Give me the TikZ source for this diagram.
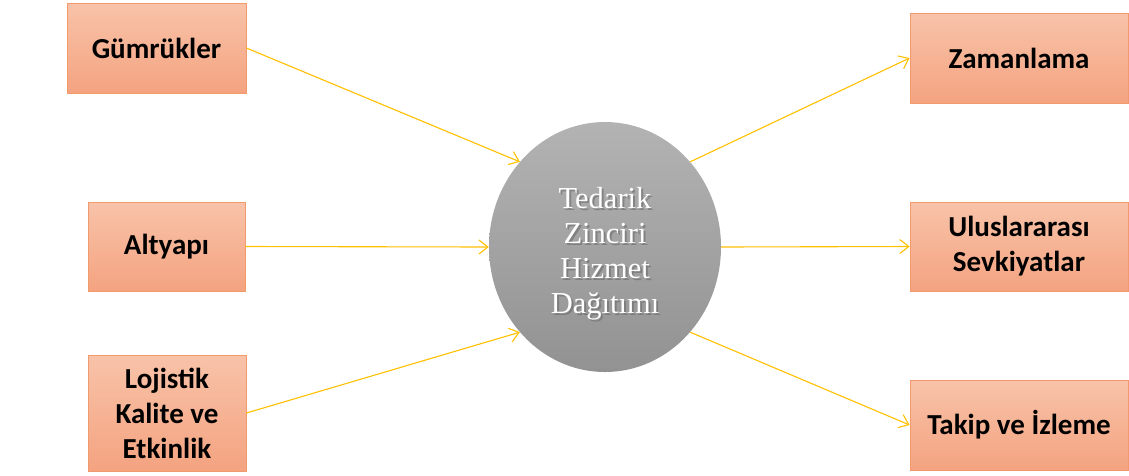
\documentclass[tikz,border=0pt]{standalone}
\usepackage{fontspec}
\setmainfont{Carlito}
\newfontfamily\serifface{Liberation Serif}
\usetikzlibrary{arrows.meta,shadings,shapes.geometric}
\definecolor{boxtop}{HTML}{F8C3A9}
\definecolor{boxbot}{HTML}{F4A380}
\definecolor{boxline}{HTML}{F29A6C}
\definecolor{arrowc}{HTML}{FFC000}
\definecolor{elltop}{HTML}{B3B3B3}
\definecolor{ellbot}{HTML}{929292}
\tikzset{
  x=1pt, y=-1pt,
  factor/.style={draw=boxline, line width=0.8pt, top color=boxtop, bottom color=boxbot,
    font=\fontsize{29}{35}\selectfont\bfseries, align=center, inner sep=0pt},
  link/.style={draw=arrowc, line width=1.1pt, -{Straight Barb[length=9pt,width=14pt,line width=1.1pt]}},
  hub/.style={ellipse, top color=elltop, bottom color=ellbot, draw=none,
    minimum width=232pt, minimum height=250pt, inner sep=0pt},
  hubtext/.style={font=\serifface\fontsize{30.5}{35}\selectfont, align=center},
}
\begin{document}
\begin{tikzpicture}
\useasboundingbox (0,0) rectangle (1129,475);
% left boxes
\node[factor, minimum width=179pt, minimum height=90pt] (g) at (156.5,48) {Gümrükler};
\node[factor, minimum width=157pt, minimum height=89pt] (a) at (166.5,246.5) {Altyapı};
\node[factor, minimum width=158pt, minimum height=116pt] (l) at (167,413) {Lojistik\\Kalite ve\\Etkinlik};
% right boxes
\node[factor, minimum width=218pt, minimum height=90pt] (z) at (1019,58) {Zamanlama};
\node[factor, minimum width=218pt, minimum height=89pt] (u) at (1019,246.5) {Uluslararası\\Sevkiyatlar};
\node[factor, minimum width=218pt, minimum height=90pt] (t) at (1019,425) {Takip ve İzleme};
% hub
\node[hub] (h) at (605,247) {};
\node[hubtext, text=black!60, opacity=0.55] (hs) at (607,256) {Tedarik\\Zinciri\\Hizmet\\Dağıtımı};
\node[hubtext, text=white] (ht) at (605,254) {Tedarik\\Zinciri\\Hizmet\\Dağıtımı};
% connectors
\draw[link] (g.east) -- (h.135);
\draw[link] (a.east) -- (h.west);
\draw[link] (l.east) -- (h.225);
\draw[link] (h.45) -- (z.west);
\draw[link] (h.east) -- (u.west);
\draw[link] (h.-45) -- (t.west);
\end{tikzpicture}
\end{document}
